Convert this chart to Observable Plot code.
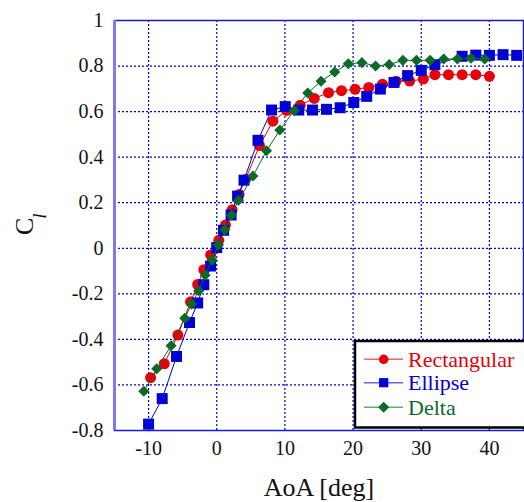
<!DOCTYPE html>
<html>
<head>
<meta charset="utf-8">
<script src="https://cdn.jsdelivr.net/npm/d3@7"></script>
<script src="https://cdn.jsdelivr.net/npm/@observablehq/plot@0.6"></script>
<style>
  html, body { margin: 0; padding: 0; background: #fff; }
  #chart { width: 524px; height: 502px; }
  svg { display: block; }
  svg text { font-family: "Liberation Serif", "Times New Roman", serif; }
</style>
</head>
<body>
<div id="chart"></div>
<script>
// ---- data ----
const seriesNames = ["Rectangular", "Ellipse", "Delta"];
const seriesColors = ["#e8000b", "#0000d4", "#0b6a25"];

const aoaRect = [-9.7, -7.7, -5.7, -3.85, -2.8, -1.9, -0.9, 0.3, 1.28, 2.25, 3.28, 4.2, 6.28, 8.24, 10.25, 12.25, 14.3, 16.4, 18.3, 20.3, 22.3, 24.3, 26.3, 28.3, 30.3, 32, 34, 36, 38, 40];
const clRect  = [-0.568, -0.507, -0.381, -0.235, -0.159, -0.094, -0.029, 0.035, 0.102, 0.169, 0.236, 0.302, 0.451, 0.558, 0.605, 0.628, 0.658, 0.683, 0.692, 0.698, 0.706, 0.72, 0.733, 0.734, 0.743, 0.762, 0.762, 0.762, 0.762, 0.755];

const aoaEllipse = [-10, -8, -5.9, -4, -2.8, -1.9, -0.9, 0, 1, 2.1, 3.06, 4, 6.05, 8.04, 10.05, 12.03, 14.05, 16.1, 18.1, 20.1, 22, 24, 26, 28, 30, 32, 36, 38, 40, 42, 44];
const clEllipse  = [-0.772, -0.66, -0.475, -0.326, -0.24, -0.16, -0.078, 0.003, 0.079, 0.146, 0.229, 0.299, 0.474, 0.607, 0.622, 0.607, 0.607, 0.61, 0.617, 0.64, 0.667, 0.699, 0.728, 0.758, 0.781, 0.806, 0.843, 0.848, 0.847, 0.85, 0.847];

const aoaDelta = [-10.7, -8.8, -6.7, -4.7, -3.7, -2.65, -1.7, -0.7, 0.25, 1.2, 2.15, 3.2, 5.3, 7.3, 9.25, 11.35, 13.35, 15.3, 17.3, 19.3, 21.3, 23.3, 25.3, 27.3, 29.3, 31.3, 33.3, 35.3, 37.3, 39.3];
const clDelta  = [-0.628, -0.529, -0.428, -0.307, -0.245, -0.186, -0.118, -0.051, 0.015, 0.082, 0.145, 0.211, 0.317, 0.428, 0.519, 0.604, 0.682, 0.733, 0.774, 0.81, 0.815, 0.8, 0.807, 0.825, 0.825, 0.825, 0.831, 0.831, 0.834, 0.831];

const xTicks = [-10, 0, 10, 20, 30, 40];
const yTicks = [-0.8, -0.6, -0.4, -0.2, 0, 0.2, 0.4, 0.6, 0.8, 1];
const xLabel = "AoA [deg]";

// ---- build ----
const toRows = (xs, ys, s) => xs.map((x, i) => ({aoa: x, cl: ys[i], series: s}));
const rect = toRows(aoaRect, clRect, seriesNames[0]);
const ell = toRows(aoaEllipse, clEllipse, seriesNames[1]);
const del = toRows(aoaDelta, clDelta, seriesNames[2]);

const font = '"Liberation Serif", "Times New Roman", serif';
const gridColor = "#0000cc";

const plot = Plot.plot({
  width: 524,
  height: 502,
  marginLeft: 114,
  marginRight: 1,
  marginTop: 20,
  marginBottom: 72,
  style: {background: "#fff", overflow: "visible"},
  x: {domain: [-15, 45], label: null},
  y: {domain: [-0.8, 1], label: null},
  marks: [
    Plot.ruleX(xTicks, {stroke: gridColor, strokeWidth: 1.2, strokeDasharray: "2,2"}),
    Plot.ruleY(yTicks, {stroke: gridColor, strokeWidth: 1.2, strokeDasharray: "2,2"}),
    Plot.frame({stroke: "#1a1acc", strokeWidth: 1.5}),
    Plot.axisX(xTicks, {tickSize: 0, tickPadding: 10, fontSize: 20, fontFamily: font, fill: "#111", tickFormat: d => String(d), label: null}),
    Plot.axisY(yTicks, {tickSize: 0, tickPadding: 11, fontSize: 20, fontFamily: font, fill: "#111", tickFormat: d => String(Math.round(d * 10) / 10), label: null}),
    Plot.ruleX([-15], {stroke: "#7b7bea", strokeWidth: 3}),
    Plot.line(rect, {x: "aoa", y: "cl", stroke: seriesColors[0], strokeWidth: 1}),
    Plot.dot(rect, {x: "aoa", y: "cl", r: 5.5, fill: seriesColors[0], stroke: "none"}),
    Plot.line(ell, {x: "aoa", y: "cl", stroke: seriesColors[1], strokeWidth: 1}),
    Plot.dot(ell, {x: "aoa", y: "cl", symbol: "square", r: 6.2, fill: seriesColors[1], stroke: "none"}),
    Plot.line(del, {x: "aoa", y: "cl", stroke: seriesColors[2], strokeWidth: 1}),
    Plot.dot(del, {x: "aoa", y: "cl", symbol: "diamond2", r: 5, fill: seriesColors[2], stroke: "none"})
  ]
});

const svg = d3.select(plot);

// x axis label
svg.append("text")
  .attr("x", 319).attr("y", 496)
  .attr("text-anchor", "middle")
  .style("font-family", font).attr("font-size", 26).attr("fill", "#111")
  .text(xLabel);

// y axis label C_l
const yl = svg.append("text")
  .attr("transform", "translate(33,235) rotate(-90)")
  .attr("text-anchor", "start")
  .style("font-family", font).attr("font-size", 26).attr("fill", "#111");
yl.append("tspan").text("C");
yl.append("tspan").attr("font-size", 19).attr("font-style", "italic").attr("dy", 13).attr("dx", -1).text("l");

// legend
const lg = svg.append("g");
lg.append("rect").attr("x", 355).attr("y", 341).attr("width", 180).attr("height", 86.5)
  .attr("fill", "#fff").attr("stroke", "#000").attr("stroke-width", 2.5);
const rowsY = [359.3, 382.7, 407.3];
const symbols = [d3.symbolCircle, d3.symbolSquare, d3.symbolDiamond2];
const symSizes = [Math.PI * 5.5 * 5.5 * 0.75, Math.PI * 5.2 * 5.2, Math.PI * 5 * 5];
seriesNames.forEach((name, i) => {
  const y = rowsY[i];
  lg.append("line").attr("x1", 364).attr("x2", 403).attr("y1", y).attr("y2", y)
    .attr("stroke", seriesColors[i]).attr("stroke-opacity", 0.6).attr("stroke-width", 1.5);
  lg.append("path").attr("d", d3.symbol(symbols[i], symSizes[i])())
    .attr("transform", `translate(383.7,${y})`).attr("fill", seriesColors[i]);
  lg.append("text").attr("x", 408).attr("y", y).attr("dy", "0.34em")
    .attr("text-anchor", "start")
    .style("font-family", font).attr("font-size", 22).attr("fill", seriesColors[i])
    .text(name);
});

document.getElementById("chart").appendChild(plot);
</script>
</body>
</html>
